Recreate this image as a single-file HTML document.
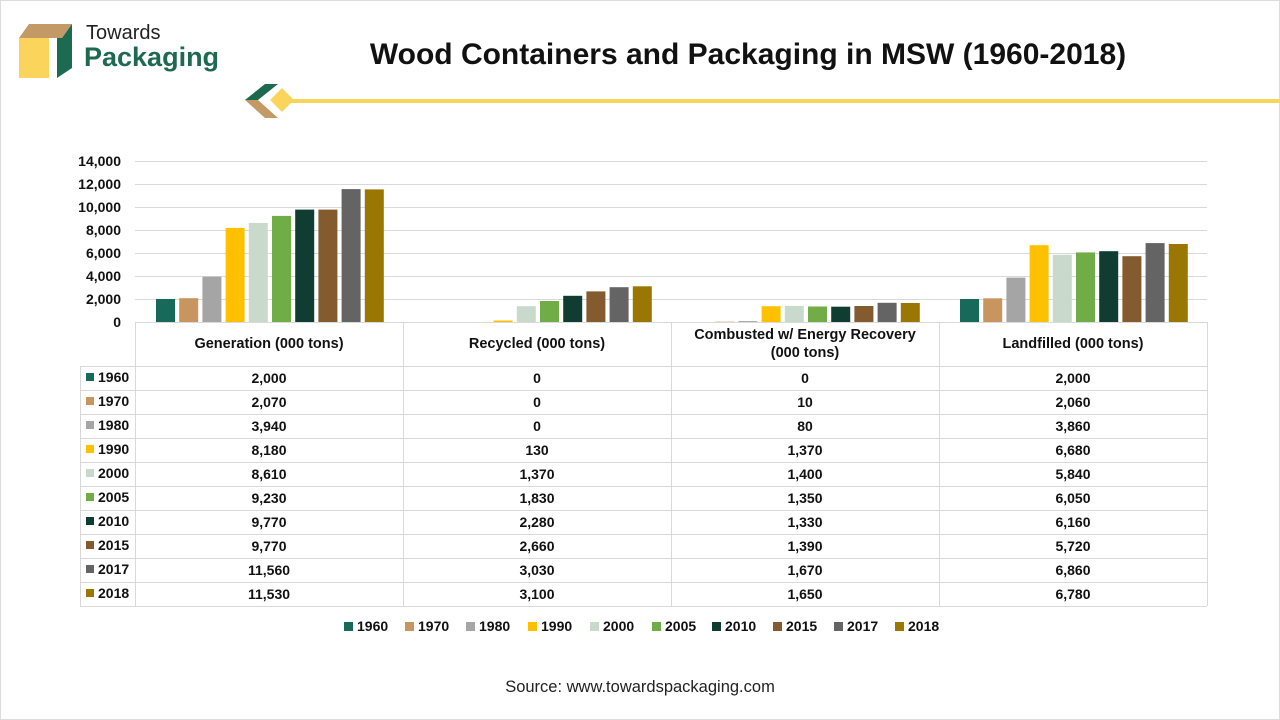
<!DOCTYPE html><html><head><meta charset="utf-8"><style>
body{margin:0;width:1280px;height:720px;background:#fff;font-family:"Liberation Sans",sans-serif;overflow:hidden;position:relative}
</style></head><body>
<div style="position:absolute;left:0;top:0;width:1278px;height:718px;border:1px solid #ddd"></div>
<svg width="1280" height="720" style="position:absolute;left:0;top:0" font-family="Liberation Sans, sans-serif">
<polygon points="19,38 29,24 72,24 62,38" fill="#c39a65"/>
<polygon points="62,38 72,24 72,68 57,78 57,38" fill="#1d6a50"/>
<rect x="19" y="38" width="30" height="40" fill="#fbd55b"/>
<text x="86" y="39" font-size="20" fill="#222">Towards</text>
<text x="84" y="66" font-size="27" font-weight="bold" fill="#1d6a50">Packaging</text>
<text x="748" y="64" font-size="30" font-weight="bold" text-anchor="middle" fill="#111">Wood Containers and Packaging in MSW (1960-2018)</text>
<polygon points="245,100 265,84 278,84 258,100" fill="#1d6a50"/>
<polygon points="245,100 258,100 278,118 265,118" fill="#c39a65"/>
<polygon points="270,100 282,88 294,100 282,112" fill="#fbd55b"/>
<rect x="290" y="99" width="990" height="4" fill="#f5d65a"/>
<g stroke="#d9d9d9" stroke-width="1">
<line x1="135" x2="1207" y1="161.5" y2="161.5"/><line x1="135" x2="1207" y1="184.5" y2="184.5"/><line x1="135" x2="1207" y1="207.5" y2="207.5"/><line x1="135" x2="1207" y1="230.5" y2="230.5"/><line x1="135" x2="1207" y1="253.5" y2="253.5"/><line x1="135" x2="1207" y1="276.5" y2="276.5"/><line x1="135" x2="1207" y1="299.5" y2="299.5"/><line x1="135" x2="1207" y1="322.5" y2="322.5"/>
</g>
<g font-size="14" font-weight="bold" text-anchor="end" fill="#111">
<text x="121" y="166">14,000</text><text x="121" y="189">12,000</text><text x="121" y="212">10,000</text><text x="121" y="235">8,000</text><text x="121" y="258">6,000</text><text x="121" y="281">4,000</text><text x="121" y="304">2,000</text><text x="121" y="327">0</text>
</g>
<g transform="translate(156,322) scale(1,-1)">
<rect x="0" width="19" height="23" fill="#17695a"/><rect x="23.2" width="19" height="23.8" fill="#c8955f"/><rect x="46.4" width="19" height="45.3" fill="#a5a5a5"/><rect x="69.6" width="19" height="94.1" fill="#ffc000"/><rect x="92.8" width="19" height="99" fill="#c9dacd"/><rect x="116" width="19" height="106.1" fill="#71ad47"/><rect x="139.2" width="19" height="112.4" fill="#0f3d31"/><rect x="162.4" width="19" height="112.4" fill="#845a2f"/><rect x="185.6" width="19" height="132.9" fill="#646464"/><rect x="208.8" width="19" height="132.6" fill="#9a7703"/>
</g>
<g transform="translate(424,322) scale(1,-1)">
<rect x="69.6" width="19" height="1.5" fill="#ffc000"/><rect x="92.8" width="19" height="15.8" fill="#c9dacd"/><rect x="116" width="19" height="21" fill="#71ad47"/><rect x="139.2" width="19" height="26.2" fill="#0f3d31"/><rect x="162.4" width="19" height="30.6" fill="#845a2f"/><rect x="185.6" width="19" height="34.8" fill="#646464"/><rect x="208.8" width="19" height="35.7" fill="#9a7703"/>
</g>
<g transform="translate(692,322) scale(1,-1)">
<rect x="23.2" width="19" height="0.3" fill="#c8955f"/><rect x="46.4" width="19" height="0.9" fill="#a5a5a5"/><rect x="69.6" width="19" height="15.8" fill="#ffc000"/><rect x="92.8" width="19" height="16.1" fill="#c9dacd"/><rect x="116" width="19" height="15.5" fill="#71ad47"/><rect x="139.2" width="19" height="15.3" fill="#0f3d31"/><rect x="162.4" width="19" height="16" fill="#845a2f"/><rect x="185.6" width="19" height="19.2" fill="#646464"/><rect x="208.8" width="19" height="19" fill="#9a7703"/>
</g>
<g transform="translate(960,322) scale(1,-1)">
<rect x="0" width="19" height="23" fill="#17695a"/><rect x="23.2" width="19" height="23.7" fill="#c8955f"/><rect x="46.4" width="19" height="44.4" fill="#a5a5a5"/><rect x="69.6" width="19" height="76.8" fill="#ffc000"/><rect x="92.8" width="19" height="67.2" fill="#c9dacd"/><rect x="116" width="19" height="69.6" fill="#71ad47"/><rect x="139.2" width="19" height="70.8" fill="#0f3d31"/><rect x="162.4" width="19" height="65.8" fill="#845a2f"/><rect x="185.6" width="19" height="78.9" fill="#646464"/><rect x="208.8" width="19" height="78" fill="#9a7703"/>
</g>
<g stroke="#d9d9d9" stroke-width="1">
<line x1="135.5" x2="135.5" y1="322" y2="606"/><line x1="403.5" x2="403.5" y1="322" y2="606"/><line x1="671.5" x2="671.5" y1="322" y2="606"/><line x1="939.5" x2="939.5" y1="322" y2="606"/><line x1="1207.5" x2="1207.5" y1="322" y2="606"/>
<line x1="80.5" x2="80.5" y1="366" y2="606"/>
<line x1="80" x2="1207" y1="366.5" y2="366.5"/><line x1="80" x2="1207" y1="390.5" y2="390.5"/><line x1="80" x2="1207" y1="414.5" y2="414.5"/><line x1="80" x2="1207" y1="438.5" y2="438.5"/><line x1="80" x2="1207" y1="462.5" y2="462.5"/><line x1="80" x2="1207" y1="486.5" y2="486.5"/><line x1="80" x2="1207" y1="510.5" y2="510.5"/><line x1="80" x2="1207" y1="534.5" y2="534.5"/><line x1="80" x2="1207" y1="558.5" y2="558.5"/><line x1="80" x2="1207" y1="582.5" y2="582.5"/><line x1="80" x2="1207" y1="606.5" y2="606.5"/>
</g>
<g font-size="14.5" font-weight="bold" fill="#111" text-anchor="middle">
<text x="269" y="348">Generation (000 tons)</text>
<text x="537" y="348">Recycled (000 tons)</text>
<text x="805" y="339">Combusted w/ Energy Recovery</text>
<text x="805" y="357">(000 tons)</text>
<text x="1073" y="348">Landfilled (000 tons)</text>
</g>
<g font-size="14" font-weight="bold" fill="#111">
<rect x="86" y="373" width="8" height="8" fill="#17695a"/><text x="98" y="382">1960</text>
<rect x="86" y="397" width="8" height="8" fill="#c8955f"/><text x="98" y="406">1970</text>
<rect x="86" y="421" width="8" height="8" fill="#a5a5a5"/><text x="98" y="430">1980</text>
<rect x="86" y="445" width="8" height="8" fill="#ffc000"/><text x="98" y="454">1990</text>
<rect x="86" y="469" width="8" height="8" fill="#c9dacd"/><text x="98" y="478">2000</text>
<rect x="86" y="493" width="8" height="8" fill="#71ad47"/><text x="98" y="502">2005</text>
<rect x="86" y="517" width="8" height="8" fill="#0f3d31"/><text x="98" y="526">2010</text>
<rect x="86" y="541" width="8" height="8" fill="#845a2f"/><text x="98" y="550">2015</text>
<rect x="86" y="565" width="8" height="8" fill="#646464"/><text x="98" y="574">2017</text>
<rect x="86" y="589" width="8" height="8" fill="#9a7703"/><text x="98" y="598">2018</text>
</g>
<g font-size="14" font-weight="bold" fill="#111" text-anchor="middle">
<text x="269" y="383">2,000</text><text x="537" y="383">0</text><text x="805" y="383">0</text><text x="1073" y="383">2,000</text>
<text x="269" y="407">2,070</text><text x="537" y="407">0</text><text x="805" y="407">10</text><text x="1073" y="407">2,060</text>
<text x="269" y="431">3,940</text><text x="537" y="431">0</text><text x="805" y="431">80</text><text x="1073" y="431">3,860</text>
<text x="269" y="455">8,180</text><text x="537" y="455">130</text><text x="805" y="455">1,370</text><text x="1073" y="455">6,680</text>
<text x="269" y="479">8,610</text><text x="537" y="479">1,370</text><text x="805" y="479">1,400</text><text x="1073" y="479">5,840</text>
<text x="269" y="503">9,230</text><text x="537" y="503">1,830</text><text x="805" y="503">1,350</text><text x="1073" y="503">6,050</text>
<text x="269" y="527">9,770</text><text x="537" y="527">2,280</text><text x="805" y="527">1,330</text><text x="1073" y="527">6,160</text>
<text x="269" y="551">9,770</text><text x="537" y="551">2,660</text><text x="805" y="551">1,390</text><text x="1073" y="551">5,720</text>
<text x="269" y="575">11,560</text><text x="537" y="575">3,030</text><text x="805" y="575">1,670</text><text x="1073" y="575">6,860</text>
<text x="269" y="599">11,530</text><text x="537" y="599">3,100</text><text x="805" y="599">1,650</text><text x="1073" y="599">6,780</text>
</g>
<g font-size="14" font-weight="bold" fill="#111">
<rect x="344" y="622" width="9" height="9" fill="#17695a"/><text x="357" y="631">1960</text>
<rect x="405" y="622" width="9" height="9" fill="#c8955f"/><text x="418" y="631">1970</text>
<rect x="466" y="622" width="9" height="9" fill="#a5a5a5"/><text x="479" y="631">1980</text>
<rect x="528" y="622" width="9" height="9" fill="#ffc000"/><text x="541" y="631">1990</text>
<rect x="590" y="622" width="9" height="9" fill="#c9dacd"/><text x="603" y="631">2000</text>
<rect x="652" y="622" width="9" height="9" fill="#71ad47"/><text x="665" y="631">2005</text>
<rect x="712" y="622" width="9" height="9" fill="#0f3d31"/><text x="725" y="631">2010</text>
<rect x="773" y="622" width="9" height="9" fill="#845a2f"/><text x="786" y="631">2015</text>
<rect x="834" y="622" width="9" height="9" fill="#646464"/><text x="847" y="631">2017</text>
<rect x="895" y="622" width="9" height="9" fill="#9a7703"/><text x="908" y="631">2018</text>
</g>
<text x="640" y="692" font-size="16.5" text-anchor="middle" fill="#222">Source: www.towardspackaging.com</text>
</svg>
</body></html>
